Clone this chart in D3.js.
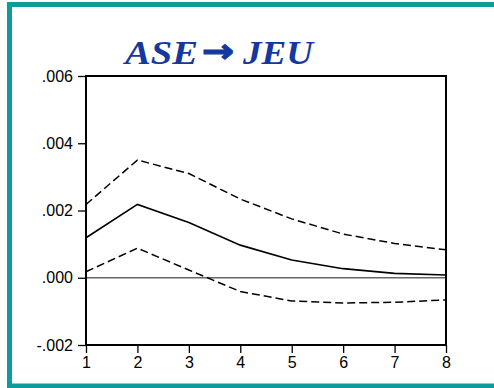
<!DOCTYPE html>
<html>
<head>
<meta charset="utf-8">
<script src="https://cdn.jsdelivr.net/npm/d3@7"></script>
<style>
  body { margin: 0; background: #fff; }
  svg { display: block; }
  .tick text { font-family: Arial, 'Liberation Sans', sans-serif; font-size: 16px; fill: #000; }
</style>
</head>
<body>
<script>
// periods and impulse response (with bands)
var periods = [1, 2, 3, 4, 5, 6, 7, 8];
var response = [0.00119, 0.00218, 0.00164, 0.00097, 0.00053, 0.00027, 0.00013, 0.00008];
var upper = [0.00218, 0.00350, 0.00310, 0.00234, 0.00175, 0.00130, 0.00102, 0.00083];
var lower = [0.00018, 0.00088, 0.00023, -0.00041, -0.00069, -0.00075, -0.00073, -0.00066];
var yTicks = [-0.002, 0.000, 0.002, 0.004, 0.006];
var titleParts = ["ASE", "\u2192", "JEU"];

var W = 494, H = 388;
var margin = {top: 76, right: 48, bottom: 43, left: 86};
var width = W - margin.left - margin.right,
    height = H - margin.top - margin.bottom;

var svg = d3.select("body").append("svg")
    .attr("width", W)
    .attr("height", H);

// teal frame
svg.append("rect")
    .attr("x", 9.5)
    .attr("y", 4.5)
    .attr("width", W + 20)
    .attr("height", 381.5)
    .style("fill", "none")
    .style("stroke", "#0e9b9b")
    .style("stroke-width", 5);

// title: word, arrow, word
var titleLayout = [
    {x: 125, len: 73, font: "'Liberation Serif', 'Times New Roman', serif", size: 33},
    {x: 202, len: 32, font: "'DejaVu Sans', sans-serif", size: 32},
    {x: 243, len: 70, font: "'Liberation Serif', 'Times New Roman', serif", size: 33}
];
titleParts.forEach(function(t, i) {
    var L = titleLayout[i];
    svg.append("text")
        .attr("x", L.x)
        .attr("y", i == 1 ? 62 : 64)
        .attr("textLength", L.len)
        .attr("lengthAdjust", "spacingAndGlyphs")
        .attr("font-family", L.font)
        .attr("font-weight", "bold")
        .attr("font-style", i == 1 ? "normal" : "italic")
        .attr("font-size", L.size + "px")
        .attr("fill", "#1538a0")
        .attr("stroke", i == 1 ? "#1538a0" : "none")
        .attr("stroke-width", i == 1 ? 1.2 : 0)
        .text(t);
});

var g = svg.append("g")
    .attr("transform", "translate(" + margin.left + "," + margin.top + ")");

var x = d3.scaleLinear().domain([1, 8]).range([0, width]);
var y = d3.scaleLinear().domain([-0.002, 0.006]).range([height, 0]);

var yAxis = d3.axisLeft(y).tickValues(yTicks).tickSize(8).tickPadding(5)
    .tickFormat(function(d) { return d3.format(".3f")(d).replace("0.", ".").replace("\u2212", "-"); });
var xAxis = d3.axisBottom(x).tickValues(periods).tickSize(8).tickPadding(4)
    .tickFormat(d3.format("d"));

function styleAxis(sel) {
    sel.attr("font-size", null).attr("font-family", null);
    sel.select(".domain").remove();
    sel.selectAll("line").style("stroke", "#000").style("stroke-width", 1.3);
}

g.append("g").call(yAxis).call(styleAxis);
g.append("g").attr("transform", "translate(0," + height + ")").call(xAxis).call(styleAxis);

// zero line
g.append("line")
    .attr("x1", 0).attr("x2", width)
    .attr("y1", y(0)).attr("y2", y(0))
    .style("stroke", "#666")
    .style("stroke-width", 1.6);

var line = d3.line()
    .x(function(d, i) { return x(periods[i]); })
    .y(function(d) { return y(d); });

g.append("path").datum(upper).attr("d", line)
    .style("fill", "none").style("stroke", "#000").style("stroke-width", 1.5)
    .style("stroke-dasharray", "8,4");
g.append("path").datum(lower).attr("d", line)
    .style("fill", "none").style("stroke", "#000").style("stroke-width", 1.5)
    .style("stroke-dasharray", "8,4");
g.append("path").datum(response).attr("d", line)
    .style("fill", "none").style("stroke", "#000").style("stroke-width", 1.6);

// plot frame
g.append("rect")
    .attr("width", width)
    .attr("height", height)
    .style("fill", "none")
    .style("stroke", "#000")
    .style("stroke-width", 2);
</script>
</body>
</html>
